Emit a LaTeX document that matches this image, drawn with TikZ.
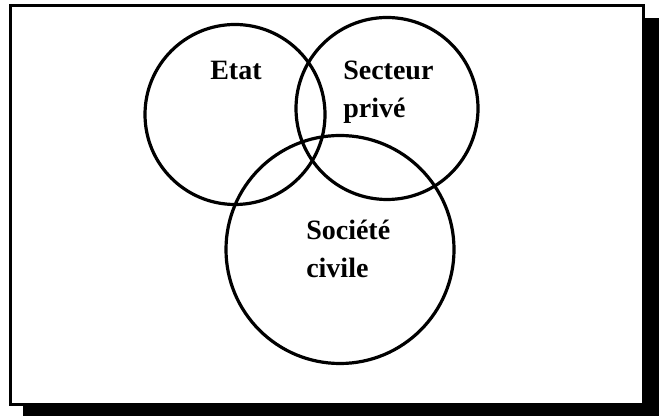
\documentclass[tikz,border=0pt]{standalone}
\usepackage{fontspec}
\setmainfont{Liberation Serif}
\usepackage{tikz}

\begin{document}
\begin{tikzpicture}[x=0.75pt,y=0.75pt,
    venn/.style={circle,draw,line width=2.4pt,inner sep=0pt},
    label/.style={anchor=base west,align=left,inner sep=0pt,
      font=\fontsize{21}{28.5}\selectfont\bfseries}]
        \useasboundingbox (0,0) rectangle (659,416);

        % shadow and frame
        \fill[black] (23,0) rectangle (659,398);
        \filldraw[fill=white,line width=2.4pt] (10.5,11.5) rectangle (643.5,410.5);

        % the three sets
        \node[venn,minimum size=135pt] (etat) at (235,301.5) {};
        \node[venn,minimum size=136.5pt] (prive) at (387,307.5) {};
        \node[venn,minimum size=171pt] (civile) at (340,166.5) {};

        % names (base = last line)
        \node[label] (tetat) at (210,336) {Etat};
        \node[label] (tprive) at (343,298) {Secteur\\priv\'e};
        \node[label] (tcivile) at (306,138) {Soci\'et\'e\\civile};
    \end{tikzpicture}
\end{document}
